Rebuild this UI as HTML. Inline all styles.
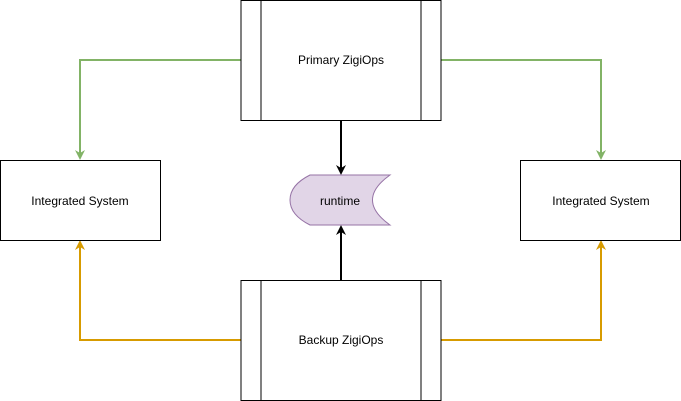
<!DOCTYPE html>
<html><head><style>body{margin:0;background:#fff}svg{display:block}</style></head><body>
<svg width="681" height="401" xmlns="http://www.w3.org/2000/svg" font-family="Liberation Sans, sans-serif" font-size="12">
<defs>
<marker id="ag" markerWidth="10" markerHeight="10" refX="8" refY="5" orient="auto" markerUnits="userSpaceOnUse"><path d="M0,0 L10,5 L0,10 L3,5 Z" fill="#82b366"/></marker>
<marker id="ao" markerWidth="10" markerHeight="10" refX="8" refY="5" orient="auto" markerUnits="userSpaceOnUse"><path d="M0,0 L10,5 L0,10 L3,5 Z" fill="#d79b00"/></marker>
<marker id="ak" markerWidth="10" markerHeight="10" refX="8" refY="5" orient="auto" markerUnits="userSpaceOnUse"><path d="M0,0 L10,5 L0,10 L3,5 Z" fill="#000"/></marker>
</defs>
<g fill="none" stroke-width="2">
<path d="M241 60 H80 V158" stroke="#82b366" marker-end="url(#ag)"/>
<path d="M441 60 H601 V158" stroke="#82b366" marker-end="url(#ag)"/>
<path d="M241 340 H80 V242" stroke="#d79b00" marker-end="url(#ao)"/>
<path d="M441 340 H601 V242" stroke="#d79b00" marker-end="url(#ao)"/>
<path d="M341 120 V173" stroke="#000" marker-end="url(#ak)"/>
<path d="M341 281 V227" stroke="#000" marker-end="url(#ak)"/>
</g>
<g stroke="#000" fill="#fff">
<rect x="241" y="0.5" width="200" height="120"/>
<line x1="261" y1="0" x2="261" y2="120"/><line x1="421" y1="0" x2="421" y2="120"/>
<rect x="241" y="280.5" width="200" height="120"/>
<line x1="261" y1="281" x2="261" y2="400"/><line x1="421" y1="281" x2="421" y2="400"/>
<rect x="0.5" y="160.5" width="160" height="80"/>
<rect x="520.5" y="160.5" width="160" height="80"/>
</g>
<path d="M310 175 H390 Q355 200 390 225 H310 Q290 215 290 200 Q290 185 310 175 Z" fill="#e1d5e7" stroke="#9673a6"/>
<g text-anchor="middle" fill="#000">
<text x="341" y="64">Primary ZigiOps</text>
<text x="341" y="344">Backup ZigiOps</text>
<text x="80" y="205">Integrated System</text>
<text x="601" y="205">Integrated System</text>
<text x="340" y="205">runtime</text>
</g>
</svg>
</body></html>
